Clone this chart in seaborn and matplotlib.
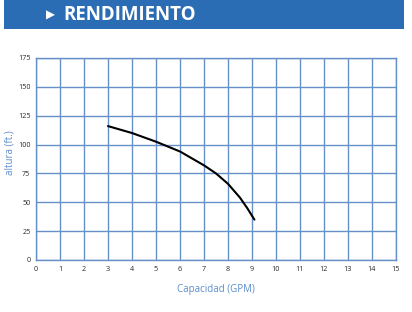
import matplotlib
matplotlib.use("Agg")
import matplotlib.pyplot as plt
import seaborn as sns
import pandas as pd
from matplotlib.patches import Rectangle

capacidad = [3.0, 4.0, 5.0, 6.0, 7.0, 7.5, 8.0, 8.5, 8.8, 9.1]
altura = [116.0, 110.0, 102.5, 94.0, 82.0, 75.0, 66.0, 54.0, 45.0, 35.0]
x_ticks = list(range(0, 16))
y_ticks = [0, 25, 50, 75, 100, 125, 150, 175]

sns.set_theme(style="white")
plt.rcParams['font.family'] = ['Open Sans', 'DejaVu Sans']

grid_c = "#6690c8"
label_c = "#5a8ccb"

fig = plt.figure(figsize=(4.12, 3.12), dpi=100)
ax = fig.add_axes([36/412, 52/312, 360/412, 202/312])

df = pd.DataFrame({"Capacidad": capacidad, "Altura": altura})
sns.lineplot(data=df, x="Capacidad", y="Altura", ax=ax, color="black", linewidth=1.5, sort=True)

ax.set_xlim(0, 15)
ax.set_ylim(0, 175)
ax.set_xticks(x_ticks)
ax.set_yticks(y_ticks)
ax.set_xticklabels([str(t) for t in x_ticks], fontsize=5.2, color="#2a2a2a")
ax.set_yticklabels([str(t) for t in y_ticks], fontsize=5.2, color="#2a2a2a")
ax.tick_params(axis="both", length=0, pad=4)
ax.grid(True, color=grid_c, linewidth=1.0)
ax.set_axisbelow(True)
for s in ax.spines.values():
    s.set_color(grid_c)
    s.set_linewidth(1.0)
ax.set_xlabel("Capacidad (GPM)", fontsize=7, color=label_c, labelpad=8)
ax.set_ylabel("altura (ft.)", fontsize=7, color=label_c, va="center")
ax.yaxis.set_label_coords(-0.072, 0.53)

# banner
fig.patches.append(Rectangle((4/412, (312-29)/312), 400/412, 29/312, transform=fig.transFigure,
                             facecolor="#2a6db5", edgecolor="none", zorder=0))
fig.text(46/412, (312-15)/312, "\u25B6", color="white", fontsize=8.5, va="center", ha="left", family=['DejaVu Sans'])
fig.text(63/412, (312-15)/312, "RENDIMIENTO", color="white", fontsize=13.5, fontweight="bold", va="center", ha="left")

fig.savefig("out.png", dpi=100)
